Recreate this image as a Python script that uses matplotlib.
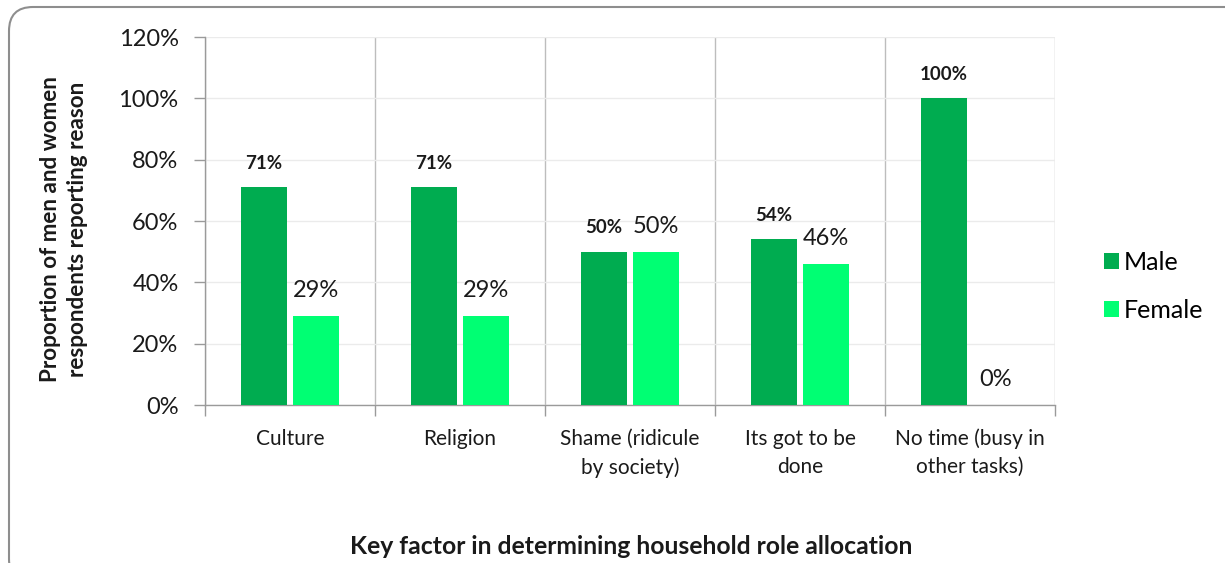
import matplotlib
matplotlib.use("Agg")
import matplotlib.pyplot as plt
from matplotlib.patches import FancyBboxPatch, Patch
from matplotlib.transforms import IdentityTransform
from matplotlib.ticker import PercentFormatter

plt.rcParams['font.family'] = ['Lato', 'DejaVu Sans']

categories = ["Culture", "Religion", "Shame (ridicule\nby society)",
              "Its got to be\ndone", "No time (busy in\nother tasks)"]
male = [71, 71, 50, 54, 100]
female = [29, 29, 50, 46, 0]
y_ticks = [0, 20, 40, 60, 80, 100, 120]

MALE_C = "#00AC50"
FEMALE_C = "#00FF73"

W, H = 1225, 563
fig = plt.figure(figsize=(W / 100, H / 100), dpi=100)

# rounded chart-area frame
frame = FancyBboxPatch((9, -20), 1240, 563 - 7 + 20,
                       boxstyle="round,pad=0,rounding_size=24",
                       transform=IdentityTransform(), facecolor="none",
                       edgecolor="#8E8E8E", linewidth=1.5, zorder=-5)
fig.patches.append(frame)

ax = fig.add_axes([205 / W, (H - 405) / H, 850 / W, 368 / H])
ax.set_facecolor("none")

x = list(range(len(categories)))
off, bw = 0.153, 0.27
xm = [i - off for i in x]
xf = [i + off for i in x]
ax.bar(xm, male, width=bw, color=MALE_C, zorder=3, label="Male")
ax.bar(xf, female, width=bw, color=FEMALE_C, zorder=3, label="Female")

for xi, v in zip(xm, male):
    ax.annotate(f"{v}%", (xi, v), xytext=(0, 11), textcoords="offset points",
                ha="center", va="bottom", fontsize=13.5, fontweight="bold",
                color="#1a1a1a")
for xi, v in zip(xf, female):
    ax.annotate(f"{v}%", (xi, v), xytext=(0, 10.5), textcoords="offset points",
                ha="center", va="bottom", fontsize=17, color="#1a1a1a")

ax.set_xlim(-0.5, len(categories) - 0.5)
ax.set_ylim(0, 120)
ax.set_yticks(y_ticks)
ax.yaxis.set_major_formatter(PercentFormatter(decimals=0))
ax.tick_params(axis="y", labelsize=17, length=8, width=1, color="#9A9A9A",
               pad=11, labelcolor="#1a1a1a")

# category boundaries carry ticks and vertical gridlines
ax.set_xticks([i + 0.5 for i in range(-1, len(categories))])
ax.set_xticklabels([])
ax.set_xticks(x, minor=True)
ax.set_xticklabels(categories, minor=True, fontsize=15, color="#1a1a1a",
                   linespacing=1.5)
ax.tick_params(axis="x", which="major", length=8, width=1, color="#9A9A9A")
ax.tick_params(axis="x", which="minor", length=0, pad=17)

ax.grid(axis="y", color="#EBEBEB", linewidth=1, zorder=0)
ax.grid(axis="x", which="major", color="#BDBDBD", linewidth=1, zorder=0)
ax.set_axisbelow(True)

for s in ("top", "right"):
    ax.spines[s].set_visible(False)
for s in ("left", "bottom"):
    ax.spines[s].set_color("#9A9A9A")
    ax.spines[s].set_linewidth(1)

handles = [Patch(facecolor=MALE_C, label="Male"),
           Patch(facecolor=FEMALE_C, label="Female")]
fig.legend(handles=handles, loc="center left",
           bbox_to_anchor=(1094 / W, 1 - 286 / H), frameon=False,
           fontsize=18, handlelength=0.6, handleheight=0.6,
           handletextpad=0.2, labelspacing=1.0, borderaxespad=0)

fig.text(64 / W, 1 - 229 / H,
         "Proportion of men and women\nrespondents reporting reason",
         rotation=90, ha="center", va="center", fontsize=16.2,
         fontweight="bold", color="#1a1a1a", linespacing=1.3)
fig.text(631 / W, 1 - 546 / H, "Key factor in determining household role allocation",
         ha="center", va="center", fontsize=17.8, fontweight="bold",
         color="#1a1a1a")

fig.savefig("out.png", dpi=100)
